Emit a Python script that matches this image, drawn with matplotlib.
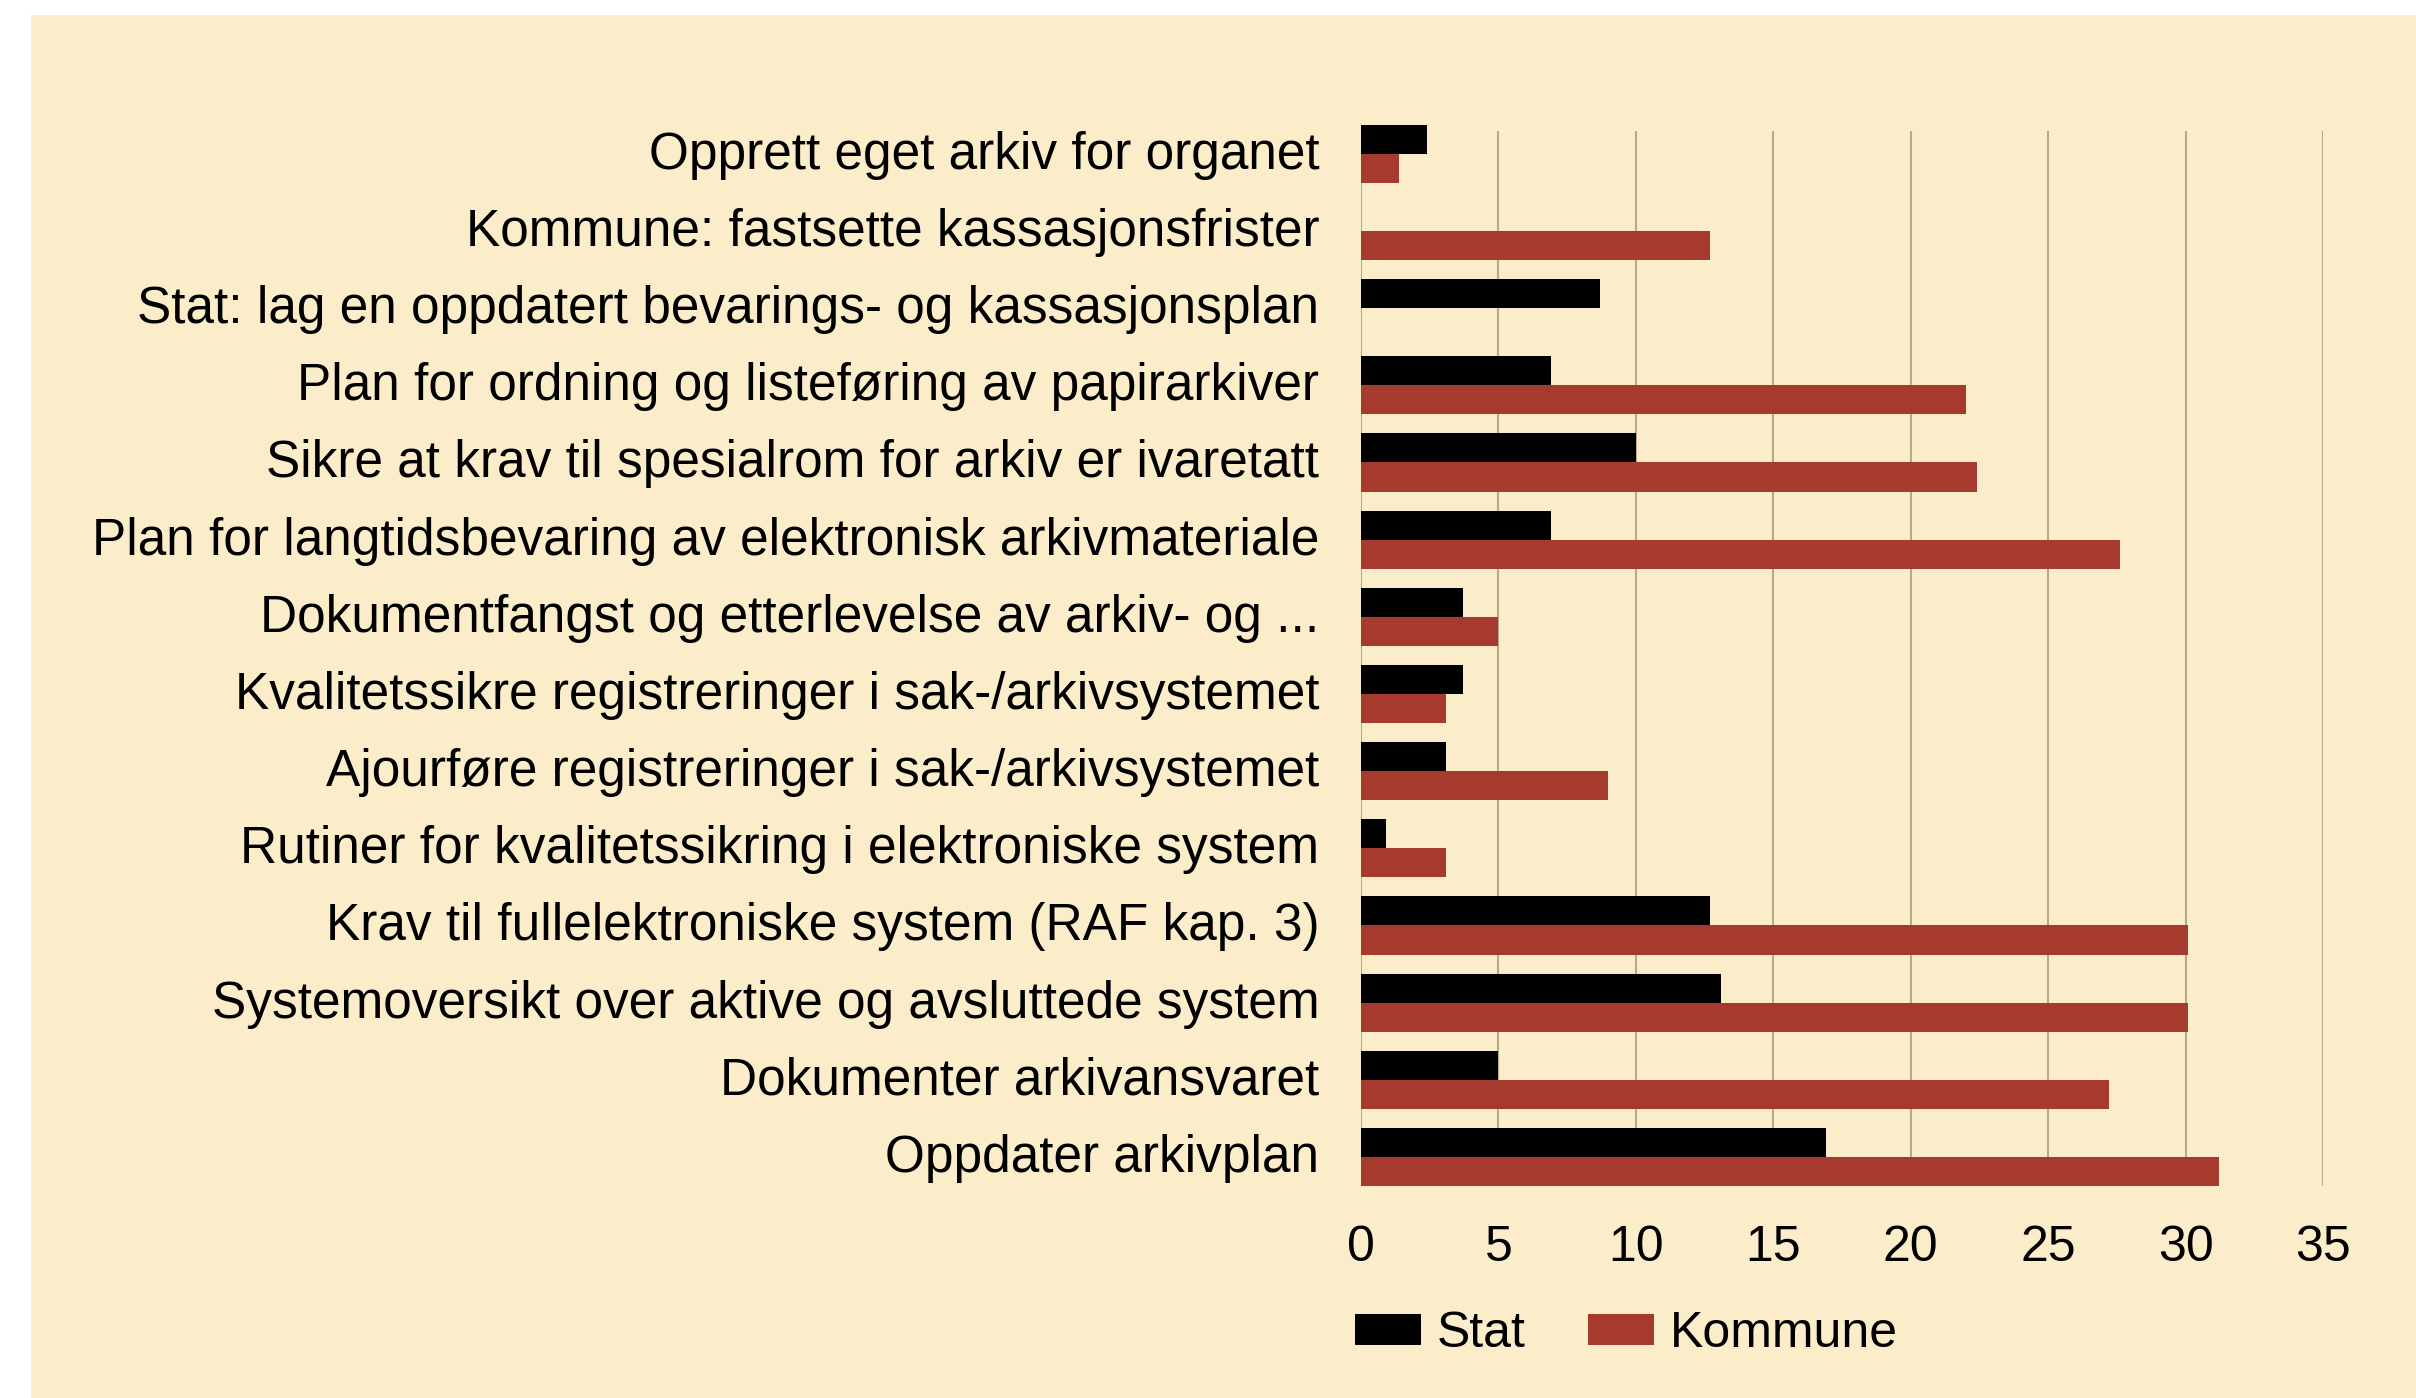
import matplotlib.pyplot as plt
from matplotlib.patches import Rectangle
import matplotlib.transforms as mtransforms
import numpy as np

plt.rcParams['font.family'] = ['Liberation Sans', 'DejaVu Sans']

kategorier = [
    'Opprett eget arkiv for organet',
    'Kommune: fastsette kassasjonsfrister',
    'Stat: lag en oppdatert bevarings- og kassasjonsplan',
    'Plan for ordning og listeføring av papirarkiver',
    'Sikre at krav til spesialrom for arkiv er ivaretatt',
    'Plan for langtidsbevaring av elektronisk arkivmateriale',
    'Dokumentfangst og etterlevelse av arkiv- og ...',
    'Kvalitetssikre registreringer i sak-/arkivsystemet',
    'Ajourføre registreringer i sak-/arkivsystemet',
    'Rutiner for kvalitetssikring i elektroniske system',
    'Krav til fullelektroniske system (RAF kap. 3)',
    'Systemoversikt over aktive og avsluttede system',
    'Dokumenter arkivansvaret',
    'Oppdater arkivplan',
]
stat = [2.4, 0, 8.7, 6.9, 10.0, 6.9, 3.7, 3.7, 3.1, 0.9, 12.7, 13.1, 5.0, 16.9]
kommune = [1.4, 12.7, 0, 22.0, 22.4, 27.6, 5.0, 3.1, 9.0, 3.1, 30.1, 30.1, 27.2, 31.2]
x_ticks = [0, 5, 10, 15, 20, 25, 30, 35]

bakgrunn = '#FBEDCA'
rod = '#A63A2F'
grid_farge = '#B5A98C'

fig = plt.figure(figsize=(24.16, 13.98), dpi=100)
fig.patch.set_facecolor('white')
# beige flate, litt innrykk oppe og til venstre
fig.add_artist(Rectangle((31 / 2416, 0), 1, 1 - 15 / 1398,
                         transform=fig.transFigure, facecolor=bakgrunn,
                         edgecolor='none', zorder=-10))

ax = fig.add_axes([1361 / 2416, 1 - 1186 / 1398, (2323 - 1361) / 2416, (1186 - 130.7) / 1398])
ax.set_facecolor('none')

y = np.arange(len(kategorier))
h = 0.377
ax.barh(y - h / 2, stat, height=h, color='black', label='Stat', clip_on=False, zorder=3)
ax.barh(y + h / 2, kommune, height=h, color=rod, label='Kommune', clip_on=False, zorder=3)

ax.set_xlim(0, 35)
ax.set_ylim(len(kategorier) - 1 + h, -0.30)
ax.set_xticks(x_ticks)
ax.set_yticks(y)
ax.set_yticklabels(kategorier)

ax.xaxis.grid(True, color=grid_farge, linewidth=1.5)
ax.set_axisbelow(True)
for s in ax.spines.values():
    s.set_visible(False)
ax.tick_params(axis='both', length=0, colors='black')
ax.tick_params(axis='x', pad=28, labelsize=36)
ax.tick_params(axis='y', pad=30, labelsize=37)

# etikettene står litt over midten av gruppen
opp = mtransforms.ScaledTranslation(0, 4 / 100, fig.dpi_scale_trans)
for lbl in ax.get_yticklabels():
    lbl.set_transform(lbl.get_transform() + opp)

fig.legend(loc='center left', bbox_to_anchor=(1355 / 2416, 1 - 1334 / 1398),
           ncol=2, frameon=False, fontsize=36, handlelength=1.32, handleheight=0.58,
           handletextpad=0.32, columnspacing=1.24, borderpad=0, borderaxespad=0)

fig.savefig('out.png', dpi=100, facecolor=fig.get_facecolor())
